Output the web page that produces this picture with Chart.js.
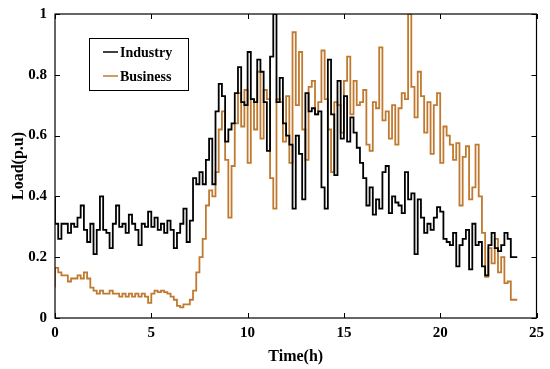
<!DOCTYPE html>
<html>
<head>
<meta charset="utf-8">
<script src="https://cdn.jsdelivr.net/npm/chart.js@4/dist/chart.umd.min.js"></script>
<style>
html,body{margin:0;padding:0;background:#fff;}
#wrap{width:550px;height:369px;position:relative;}
</style>
</head>
<body>
<div id="wrap"><canvas id="c"></canvas></div>
<script>
// 10-minute steps, index i covers [i/6, (i+1)/6] hours
const industry = [
 0.40,0.31,0.26,0.31,0.31,0.28,
 0.31,0.30,0.33,0.37,0.29,0.25,
 0.31,0.21,0.29,0.40,0.29,0.28,
 0.23,0.31,0.37,0.30,0.31,0.28,
 0.34,0.31,0.29,0.24,0.31,0.30,
 0.35,0.30,0.33,0.29,0.31,0.28,
 0.32,0.29,0.23,0.28,0.31,0.36,
 0.25,0.32,0.46,0.44,0.48,0.44,
 0.52,0.59,0.44,0.68,0.77,0.73,
 0.58,0.62,0.64,0.74,0.825,0.71,
 0.70,0.875,0.72,0.71,0.85,0.81,
 0.71,0.55,0.86,1.0,0.71,0.79,
 0.64,0.60,0.57,0.36,0.60,0.54,
 0.39,0.74,0.68,0.69,0.67,0.68,
 0.43,0.36,0.85,0.67,0.47,0.78,
 0.59,0.73,0.58,0.66,0.61,0.56,
 0.51,0.46,0.37,0.43,0.34,0.39,
 0.36,0.48,0.50,0.345,0.40,0.38,
 0.37,0.345,0.48,0.39,0.41,0.21,
 0.39,0.33,0.28,0.31,0.29,0.33,
 0.365,0.35,0.26,0.25,0.24,0.28,
 0.17,0.24,0.26,0.29,0.16,0.31,
 0.24,0.25,0.17,0.14,0.24,0.28,
 0.23,0.22,0.24,0.28,0.26,0.20
];
const business = [
 0.10,0.165,0.15,0.14,0.14,0.12,
 0.13,0.13,0.14,0.13,0.15,0.13,
 0.10,0.09,0.08,0.09,0.08,0.08,
 0.09,0.08,0.08,0.07,0.08,0.07,
 0.08,0.07,0.08,0.07,0.08,0.07,
 0.05,0.08,0.09,0.085,0.09,0.085,
 0.08,0.07,0.06,0.04,0.035,0.045,
 0.045,0.06,0.09,0.15,0.20,0.26,
 0.37,0.42,0.40,0.48,0.62,0.68,
 0.52,0.33,0.50,0.64,0.74,0.63,
 0.75,0.51,0.72,0.62,0.81,0.59,
 0.75,0.72,0.46,0.36,0.72,0.71,
 0.58,0.73,0.51,0.94,0.70,0.875,
 0.62,0.52,0.76,0.78,0.67,0.71,
 0.88,0.72,0.62,0.48,0.71,0.70,
 0.61,0.78,0.86,0.67,0.78,0.70,
 0.71,0.75,0.57,0.55,0.71,0.69,
 0.89,0.65,0.68,0.59,0.70,0.57,
 0.69,0.74,0.72,1.0,0.76,0.66,
 0.81,0.73,0.61,0.71,0.54,0.70,
 0.74,0.51,0.63,0.60,0.57,0.52,
 0.575,0.37,0.53,0.565,0.39,0.43,
 0.57,0.40,0.28,0.135,0.23,0.18,
 0.26,0.15,0.20,0.115,0.12,0.06
];
const xTicks = [0,5,10,15,20,25];
const yTicks = [0,0.2,0.4,0.6,0.8,1];
const seriesNames = ['Industry','Business'];
const seriesColors = ['#000000','#C07A30'];

function toPoints(arr){
  const pts = arr.map((v,i)=>({x:i/6,y:v}));
  pts.push({x:24,y:arr[arr.length-1]});
  return pts;
}

const FONT = '"Liberation Serif","Times New Roman",serif';

const framePlugin = {
  id:'frame',
  afterDatasetsDraw(chart){
    const {ctx, chartArea:a, scales:{x,y}} = chart;
    ctx.save();
    ctx.strokeStyle='#000'; ctx.lineWidth=1.2;
    ctx.strokeRect(a.left, a.top, a.right-a.left, a.bottom-a.top);
    ctx.lineWidth=1;
    const L=5;
    xTicks.forEach(t=>{
      const px=Math.round(x.getPixelForValue(t))+0.5;
      ctx.beginPath();
      ctx.moveTo(px,a.bottom); ctx.lineTo(px,a.bottom-L);
      ctx.moveTo(px,a.top); ctx.lineTo(px,a.top+L);
      ctx.stroke();
    });
    yTicks.forEach(t=>{
      const py=Math.round(y.getPixelForValue(t))+0.5;
      ctx.beginPath();
      ctx.moveTo(a.left,py); ctx.lineTo(a.left+L,py);
      ctx.moveTo(a.right,py); ctx.lineTo(a.right-L,py);
      ctx.stroke();
    });
    // legend box
    const bx=89, by=38, bw=99, bh=52;
    ctx.fillStyle='#fff';
    ctx.fillRect(bx,by,bw,bh);
    ctx.strokeStyle='#000'; ctx.lineWidth=1;
    ctx.strokeRect(bx+0.5,by+0.5,bw,bh);
    ctx.font='bold 14px '+FONT;
    ctx.textBaseline='middle';
    chart.data.datasets.forEach((ds,i)=>{
      const ly = by+14+i*24;
      ctx.strokeStyle=ds.borderColor; ctx.lineWidth=1.5;
      ctx.beginPath(); ctx.moveTo(bx+14,ly); ctx.lineTo(bx+29,ly); ctx.stroke();
      ctx.fillStyle='#000';
      ctx.fillText(ds.label, bx+31, ly+1);
    });
    ctx.restore();
  }
};

new Chart(document.getElementById('c'),{
  type:'line',
  data:{
    datasets:[
      {label:seriesNames[0], data:toPoints(industry), borderColor:seriesColors[0], borderWidth:1.8, pointRadius:0, stepped:'after', fill:false},
      {label:seriesNames[1], data:toPoints(business), borderColor:seriesColors[1], borderWidth:1.8, pointRadius:0, stepped:'after', fill:false}
    ]
  },
  options:{
    responsive:true, maintainAspectRatio:false, animation:false,
    layout:{padding:{top:14,right:13,left:9,bottom:0}},
    plugins:{legend:{display:false}, tooltip:{enabled:false}},
    scales:{
      x:{type:'linear', min:0, max:25,
        afterBuildTicks(s){ s.ticks = xTicks.map(v=>({value:v})); },
        afterFit(s){ s.height=51; },
        grid:{display:false, drawTicks:false}, border:{display:false},
        ticks:{color:'#000', font:{family:FONT, size:15, weight:'bold'}, padding:6, maxRotation:0},
        title:{display:true, text:'Time(h)', color:'#000', font:{family:FONT, size:16, weight:'bold'}, padding:{top:0,bottom:3}}
      },
      y:{min:0, max:1,
        afterBuildTicks(s){ s.ticks = yTicks.map(v=>({value:v})); },
        afterFit(s){ s.width=46; s.paddingTop=0; s.paddingBottom=0; },
        grid:{display:false, drawTicks:false}, border:{display:false},
        ticks:{color:'#000', font:{family:FONT, size:15, weight:'bold'}, padding:8, callback:v=>String(v)},
        title:{display:true, text:'Load(p.u)', color:'#000', font:{family:FONT, size:16, weight:'bold'}, padding:{top:0,bottom:0}}
      }
    }
  },
  plugins:[framePlugin]
});
</script>
</body>
</html>
